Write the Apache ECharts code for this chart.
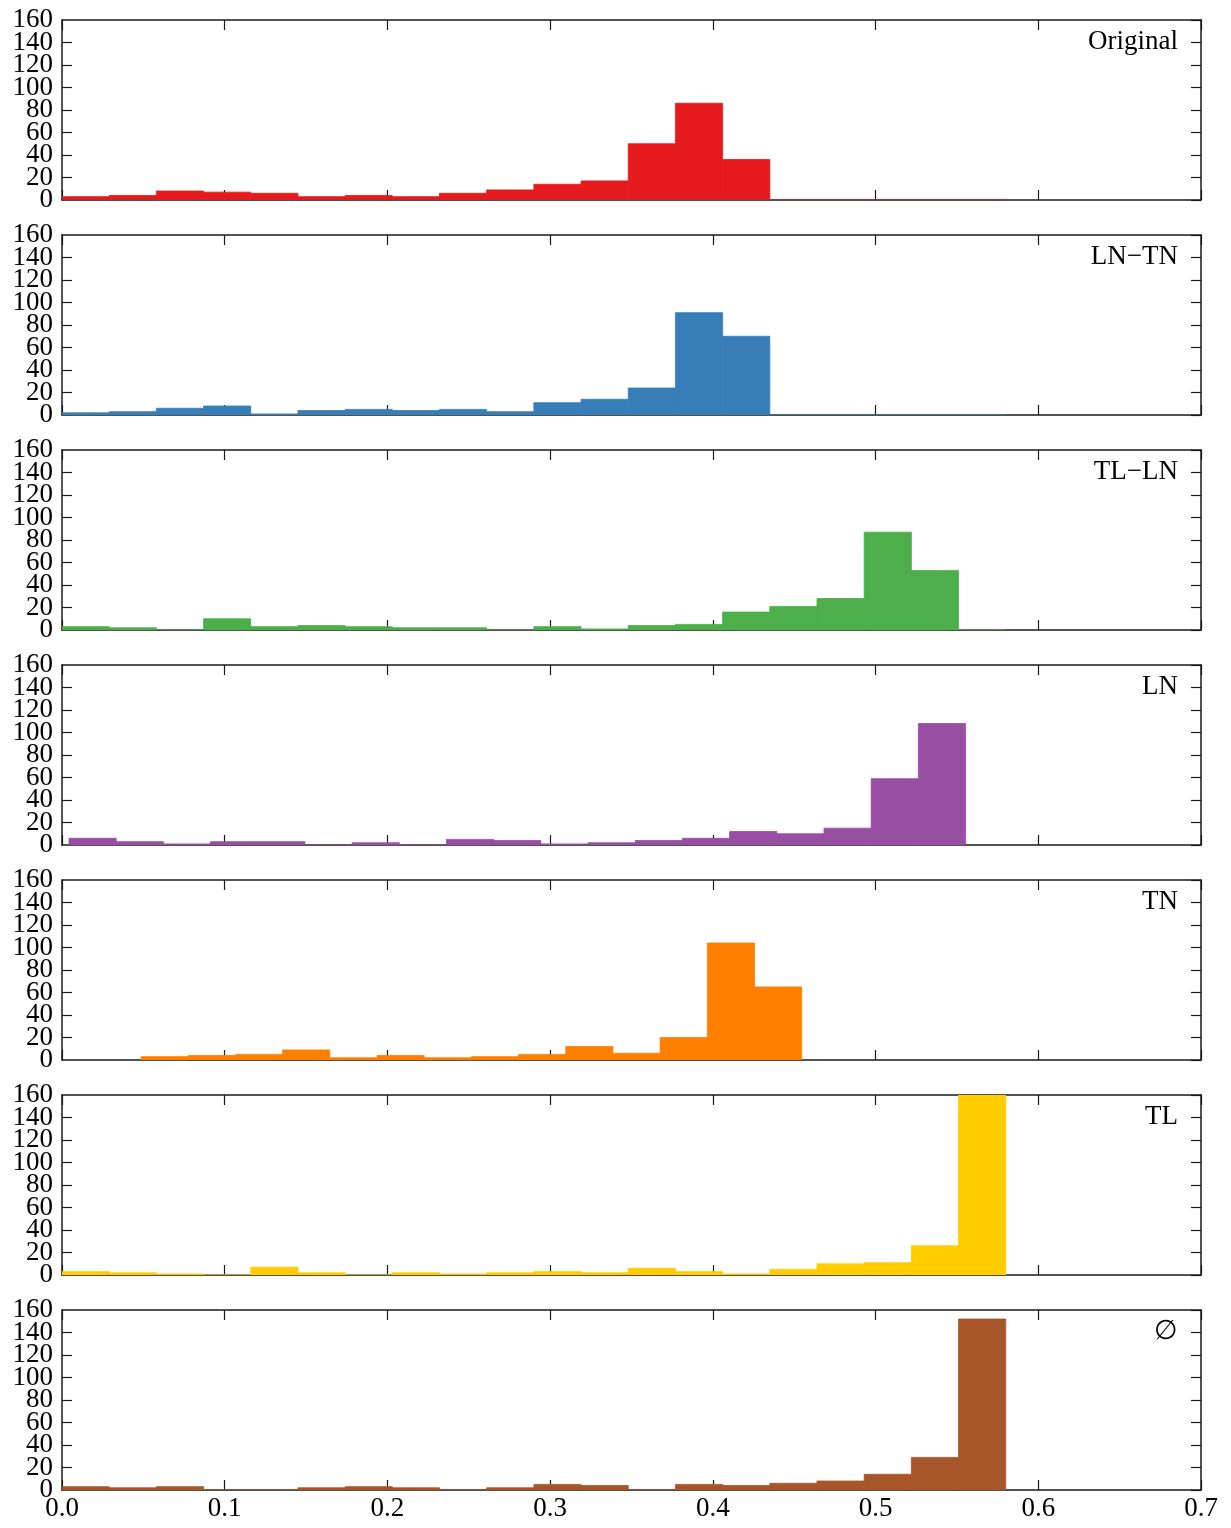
<!DOCTYPE html>
<html>
<head>
<meta charset="utf-8">
<script src="https://cdn.jsdelivr.net/npm/echarts@6/dist/echarts.min.js"></script>
<style>
html, body { margin: 0; background: #fff; }
#chart { width: 1231px; height: 1528px; }
</style>
</head>
<body>
<div id="chart"></div>
<script>
// panel names and colours, top to bottom
const names = ['Original', 'LN\u2212TN', 'TL\u2212LN', 'LN', 'TN', 'TL', '\u2205'];
const colors = ['#e41a1c', '#377eb8', '#4daf4a', '#984ea3', '#ff7f00', '#ffcc00', '#a65628'];

// left edge of the first bin in each panel, all bins have the same width
const binStarts = [0, 0, 0, 0.0043, 0.0486, 0, 0];
const binWidth = 0.029;

// histogram counts per bin
const countsOriginal = [3, 4, 8, 7, 6, 3, 4, 3, 6, 9, 14, 17, 50, 86, 36, 0, 0, 0, 0, 0];
const countsLnTn = [2, 3, 6, 8, 1, 4, 5, 4, 5, 3, 11, 14, 24, 91, 70, 0, 0, 0, 0, 0];
const countsTlLn = [3, 2, 0, 10, 3, 4, 3, 2, 2, 0, 3, 1, 4, 5, 16, 21, 28, 87, 53, 0];
const countsLn = [6, 3, 1, 3, 3, 0, 2, 0, 5, 4, 1, 2, 4, 6, 12, 10, 15, 59, 108];
const countsTn = [3, 4, 5, 9, 2, 4, 2, 3, 5, 12, 6, 20, 104, 65];
const countsTl = [3, 2, 1, 0, 7, 2, 0, 2, 1, 2, 3, 2, 6, 3, 1, 5, 10, 11, 26, 160];
const countsEmpty = [3, 2, 3, 0, 0, 2, 3, 2, 0, 2, 5, 4, 0, 5, 4, 6, 8, 14, 29, 152];

const allCounts = [countsOriginal, countsLnTn, countsTlLn, countsLn, countsTn, countsTl, countsEmpty];

// axis ranges
const xMin = 0, xMax = 0.7, xStep = 0.1;
const yMin = 0, yMax = 160, yStep = 20;

const chart = echarts.init(document.getElementById('chart'));

const font = 'Liberation Serif';
const ink = '#1a1a1a';
const panelTop = 20, panelGap = 215, panelHeight = 180;

const grids = [], xAxes = [], yAxes = [], series = [], titles = [];

allCounts.forEach(function (counts, i) {
    const top = panelTop + i * panelGap;
    const last = i === allCounts.length - 1;
    grids.push({ left: 62, right: 30, top: top, height: panelHeight });

    const lineStyle = { color: ink, width: 1.5 };
    const tick = { show: true, inside: true, length: 10, lineStyle: { color: ink, width: 1.2 } };
    const yLabel = { fontFamily: font, fontSize: 27, color: '#000', margin: 9, hideOverlap: false };

    // bottom x axis
    xAxes.push({
        type: 'value', gridIndex: i, min: xMin, max: xMax, interval: xStep,
        position: 'bottom',
        axisLine: { show: true, onZero: false, lineStyle: lineStyle },
        axisTick: tick,
        splitLine: { show: false },
        axisLabel: {
            show: last, fontFamily: font, fontSize: 27, color: '#000', margin: 5,
            showMinLabel: true, showMaxLabel: true, hideOverlap: false,
            formatter: function (v) { return v.toFixed(1); }
        }
    });
    // top x axis (frame + ticks)
    xAxes.push({
        type: 'value', gridIndex: i, min: xMin, max: xMax, interval: xStep,
        position: 'top',
        axisLine: { show: true, onZero: false, lineStyle: lineStyle },
        axisTick: tick,
        splitLine: { show: false },
        axisLabel: { show: false }
    });
    // left y axis: ticks and the inner labels (20..140)
    yAxes.push({
        type: 'value', gridIndex: i, min: yMin, max: yMax, interval: yStep,
        position: 'left',
        axisLine: { show: true, onZero: false, lineStyle: lineStyle },
        axisTick: tick,
        splitLine: { show: false },
        axisLabel: Object.assign({ showMinLabel: false, showMaxLabel: false }, yLabel)
    });
    // left y axis: only the end labels (0 and 160), so nothing is dropped for overlap
    yAxes.push({
        type: 'value', gridIndex: i, min: yMin, max: yMax, interval: yMax - yMin,
        position: 'left',
        axisLine: { show: false },
        axisTick: { show: false },
        splitLine: { show: false },
        axisLabel: Object.assign({ showMinLabel: true, showMaxLabel: true }, yLabel)
    });
    // right y axis (frame + ticks)
    yAxes.push({
        type: 'value', gridIndex: i, min: yMin, max: yMax, interval: yStep,
        position: 'right',
        axisLine: { show: true, onZero: false, lineStyle: lineStyle },
        axisTick: tick,
        splitLine: { show: false },
        axisLabel: { show: false }
    });

    const data = counts.map(function (c, k) {
        const x0 = binStarts[i] + k * binWidth;
        return [x0, x0 + binWidth, c];
    });

    series.push({
        type: 'custom',
        name: names[i],
        xAxisIndex: i * 2,
        yAxisIndex: i * 3,
        clip: true,
        data: data,
        renderItem: function (params, api) {
            const p0 = api.coord([api.value(0), 0]);
            const p1 = api.coord([api.value(1), api.value(2)]);
            return {
                type: 'rect',
                shape: { x: p0[0], y: p1[1], width: p1[0] - p0[0], height: p0[1] - p1[1] },
                style: { fill: colors[i], stroke: colors[i], lineWidth: 0.8 }
            };
        },
        z: 1
    });

    titles.push({
        text: names[i],
        right: 48,
        top: top + 3,
        textStyle: { fontFamily: font, fontSize: 27, fontWeight: 'normal', color: '#000' }
    });
});

chart.setOption({
    animation: false,
    backgroundColor: '#fff',
    title: titles,
    grid: grids,
    xAxis: xAxes,
    yAxis: yAxes,
    series: series
});
</script>
</body>
</html>
